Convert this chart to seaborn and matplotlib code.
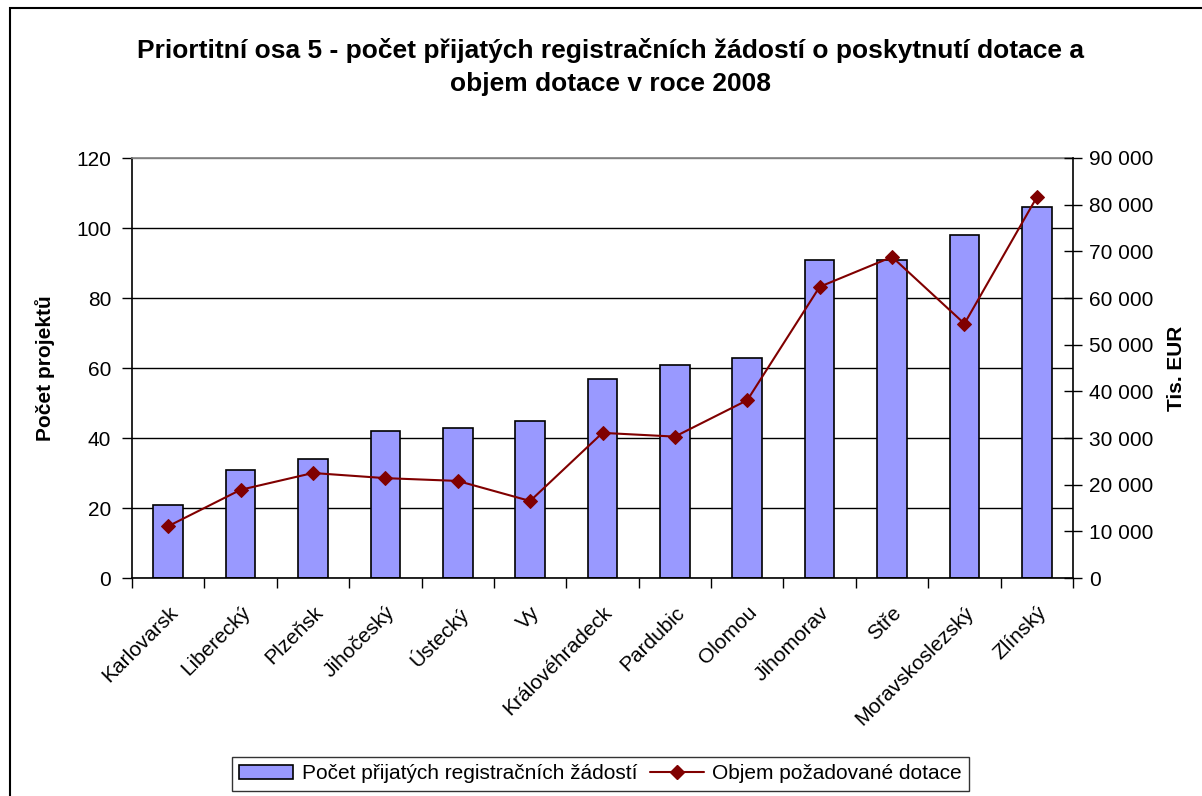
import numpy as np
import pandas as pd
import matplotlib
matplotlib.use("Agg")
import matplotlib.pyplot as plt
import seaborn as sns
from matplotlib.ticker import FuncFormatter, FixedLocator
from matplotlib.patches import Rectangle, Patch
from matplotlib.lines import Line2D

# ---- data ----
regions = ["Karlovarsk", "Liberecký", "Plzeňsk", "Jihočeský", "Ústecký", "Vy",
           "Královéhradeck", "Pardubic", "Olomou", "Jihomorav", "Stře",
           "Moravskoslezský", "Zlínský"]
applications = [21, 31, 34, 42, 43, 45, 57, 61, 63, 91, 91, 98, 106]
funding = [11100, 18900, 22500, 21400, 20800, 16500, 31100, 30300, 38100,
           62400, 68800, 54500, 81600]

title = "Priortitní osa 5 - počet přijatých registračních žádostí o poskytnutí dotace a\nobjem dotace v roce 2008"
left_label = "Počet projektů"
right_label = "Tis. EUR"
bar_legend = "Počet přijatých registračních žádostí"
line_legend = "Objem požadované dotace"

left_ticks = [0, 20, 40, 60, 80, 100, 120]
right_ticks = [0, 10000, 20000, 30000, 40000, 50000, 60000, 70000, 80000, 90000]

sns.set_theme(style="white")
plt.rcParams["font.family"] = ["Liberation Sans", "DejaVu Sans"]
plt.rcParams["text.color"] = "black"
plt.rcParams["axes.labelcolor"] = "black"
plt.rcParams["xtick.color"] = "black"
plt.rcParams["ytick.color"] = "black"

bar_color = "#9999FF"
line_color = "#800000"

df = pd.DataFrame({"region": regions, "applications": applications, "funding": funding})

fig = plt.figure(figsize=(12.02, 7.96), dpi=100)
ax = fig.add_axes([132 / 1202, 1 - 578 / 796, (1073 - 132) / 1202, (578 - 158) / 796])

sns.barplot(data=df, x="region", y="applications", ax=ax, color=bar_color,
            saturation=1, edgecolor="black", linewidth=1.2, width=0.41, zorder=2)
ax.set_xlim(-0.5, len(regions) - 0.5)
ax.set_ylim(left_ticks[0], left_ticks[-1])
ax.set_yticks(left_ticks)
ax.set_axisbelow(True)
ax.yaxis.grid(True, color="black", linewidth=1)
ax.xaxis.grid(False)
gl = ax.yaxis.get_gridlines()
gl[-1].set_color("#808080")

ax.set_xlabel("")
ax.set_ylabel(left_label, fontsize=15, fontweight="bold")
ax.yaxis.set_label_coords((55 - 132) / 941, 0.5)
ax.tick_params(axis="y", which="major", direction="out", length=7, width=1,
               color="black", labelcolor="black", labelsize=15, pad=8, left=True)
ax.set_xticks(np.arange(len(regions)))
ax.set_xticklabels(regions, rotation=45, ha="right", rotation_mode="anchor", fontsize=15,
                   color="black")
ax.tick_params(axis="x", which="major", length=0, pad=18)
ax.xaxis.set_minor_locator(FixedLocator(np.arange(len(regions) + 1) - 0.5))
ax.tick_params(axis="x", which="minor", direction="out", length=7, width=1,
               color="black", bottom=True)

for s in ["left", "bottom"]:
    ax.spines[s].set_color("black")
    ax.spines[s].set_linewidth(1.2)
ax.spines["top"].set_color("#808080")
ax.spines["top"].set_linewidth(1.2)
ax.spines["right"].set_visible(False)

ax2 = ax.twinx()
sns.lineplot(x=np.arange(len(regions)), y=funding, ax=ax2, color=line_color,
             marker="D", markersize=7, markeredgecolor=line_color,
             markerfacecolor=line_color, linewidth=1.5, zorder=3)
ax2.set_ylim(right_ticks[0], right_ticks[-1])
ax2.set_yticks(right_ticks)
ax2.yaxis.set_major_formatter(FuncFormatter(lambda v, p: f"{v:,.0f}".replace(",", " ")))
ax2.tick_params(axis="y", direction="inout", length=13, width=1, color="black",
                labelcolor="black", labelsize=15, pad=5, right=True)
ax2.set_ylabel(right_label, fontsize=15, fontweight="bold", rotation=90)
ax2.yaxis.set_label_coords((1167 - 132) / 941, 0.5)
for s in ["left", "top", "bottom"]:
    ax2.spines[s].set_visible(False)
ax2.spines["right"].set_color("black")
ax2.spines["right"].set_linewidth(1.2)
ax2.grid(False)
ax.set_xlim(-0.5, len(regions) - 0.5)

fig.text(0.508, 1 - 67 / 796, title, ha="center", va="center", fontsize=19,
         fontweight="bold", linespacing=1.45, color="black")

handles = [Patch(facecolor=bar_color, edgecolor="black", linewidth=1.2),
           Line2D([], [], color=line_color, marker="D", markersize=7, linewidth=1.5)]
leg = fig.legend(handles, [bar_legend, line_legend], loc="upper center",
                 bbox_to_anchor=(0.4995, 1 - 757 / 796), ncol=2, frameon=True,
                 fancybox=False, edgecolor="black", fontsize=15, handlelength=2.6,
                 columnspacing=0.6, handletextpad=0.4, borderpad=0.35,
                 borderaxespad=0)
leg.get_frame().set_linewidth(1.0)
for t in leg.get_texts():
    t.set_color("black")

frame = Rectangle((10 / 1202, -0.1), 1.2, 1.1 - 8 / 796, transform=fig.transFigure,
                  fill=False, edgecolor="black", linewidth=1.5, clip_on=False)
fig.patches.append(frame)

fig.savefig("out.png", dpi=100)
